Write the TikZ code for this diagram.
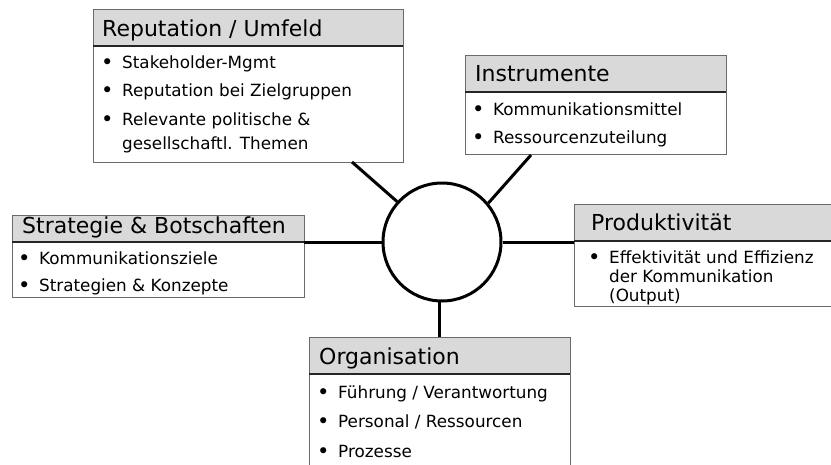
\documentclass[tikz,border=0pt]{standalone}
\usepackage{fontspec}
\setmainfont{DejaVu Sans}
\definecolor{hdrgray}{HTML}{D9D9D9}
\definecolor{edgegray}{HTML}{6A6A6A}
\newcommand\mkbox[6]{%
  \node[headpart, minimum width=#4pt, minimum height=#5pt] (#1head) at (#2,#3) {};
  \node[boxpart, minimum width=#4pt, minimum height=#6pt] (#1body) at (#1head.south west) {};
  \draw[sepline] (#1head.south west) -- (#1head.south east);}
\newcommand\hdtext[4]{\node[headtxt] (#1) at (#2,#3) {#4};}
\newcommand\bigbul{\raisebox{-1.1pt}{\fontsize{21}{21}\selectfont•}}
\newcommand\bitem[4]{\node[bodytxt] (#1) at (#2-21,#3) {\makebox[21pt][l]{\bigbul}#4};}
\newcommand\bcont[4]{\node[bodytxt] (#1) at (#2,#3) {#4};}
\begin{document}
\begin{tikzpicture}[x=1pt,y=-1pt,
  boxpart/.style={draw=edgegray, line width=1pt, fill=white, anchor=north west, inner sep=0pt, outer sep=0pt},
  headpart/.style={boxpart, fill=hdrgray},
  sepline/.style={draw=black!85, line width=1.3pt},
  headtxt/.style={anchor=base west, inner sep=0pt, font=\fontsize{22}{26}\selectfont},
  bodytxt/.style={anchor=base west, inner sep=0pt, font=\fontsize{16.8}{20}\selectfont},
  conn/.style={line width=3pt, draw=black},
  hubstyle/.style={circle, draw=black, fill=white, line width=3pt, minimum size=118pt, inner sep=0pt}
]
\clip (0,0) rectangle (831,464);
\fill[white] (0,0) rectangle (831,464);

% boxes
\mkbox{rep}{93}{9}{310}{37}{116}
\mkbox{ins}{465}{55}{261}{37}{62}
\mkbox{str}{12}{215}{292}{27}{55}
\mkbox{prod}{574}{204}{270}{37}{65}
\mkbox{org}{309}{337}{261}{37}{150}

% hub and connectors
\node[hubstyle] (hub) at (442,242) {};
\coordinate (repfoot) at (352,162);
\coordinate (insfoot) at (531,155);
\draw[conn] (hub.138) -- (repfoot);
\draw[conn] (hub.40) -- (insfoot);
\draw[conn] (hub.west) -- (hub.west -| strhead.south east);
\draw[conn] (hub.east) -- (hub.east -| prodhead.south west);
\draw[conn] (hub.268) -- (hub.268 |- orghead.north);

% Reputation / Umfeld
\hdtext{reph}{102}{36.7}{Reputation / Umfeld}
\bitem{rep1}{122}{68}{Stakeholder-Mgmt}
\bitem{rep2}{122}{96.5}{Reputation bei Zielgruppen}
\bitem{rep3}{122}{125}{Relevante politische \&}
\bcont{rep4}{122}{149}{gesellschaftl. Themen}

% Instrumente
\hdtext{insh}{475}{81.7}{Instrumente}
\bitem{ins1}{493}{115}{Kommunikationsmittel}
\bitem{ins2}{493}{143}{Ressourcenzuteilung}

% Strategie & Botschaften
\hdtext{strh}{22}{233}{Strategie \& Botschaften}
\bitem{str1}{39}{264}{Kommunikationsziele}
\bitem{str2}{39}{291.5}{Strategien \& Konzepte}

% Produktivitaet
\hdtext{prodh}{591}{230.7}{Produktivität}
\bitem{prod1}{609}{263}{Effektivität und Effizienz}
\bcont{prod2}{609}{282.5}{der Kommunikation}
\bcont{prod3}{609}{301.5}{(Output)}

% Organisation
\hdtext{orgh}{319}{364}{Organisation}
\bitem{org1}{338}{398}{Führung / Verantwortung}
\bitem{org2}{338}{427.5}{Personal / Ressourcen}
\bitem{org3}{338}{457.5}{Prozesse}
\end{tikzpicture}
\end{document}
